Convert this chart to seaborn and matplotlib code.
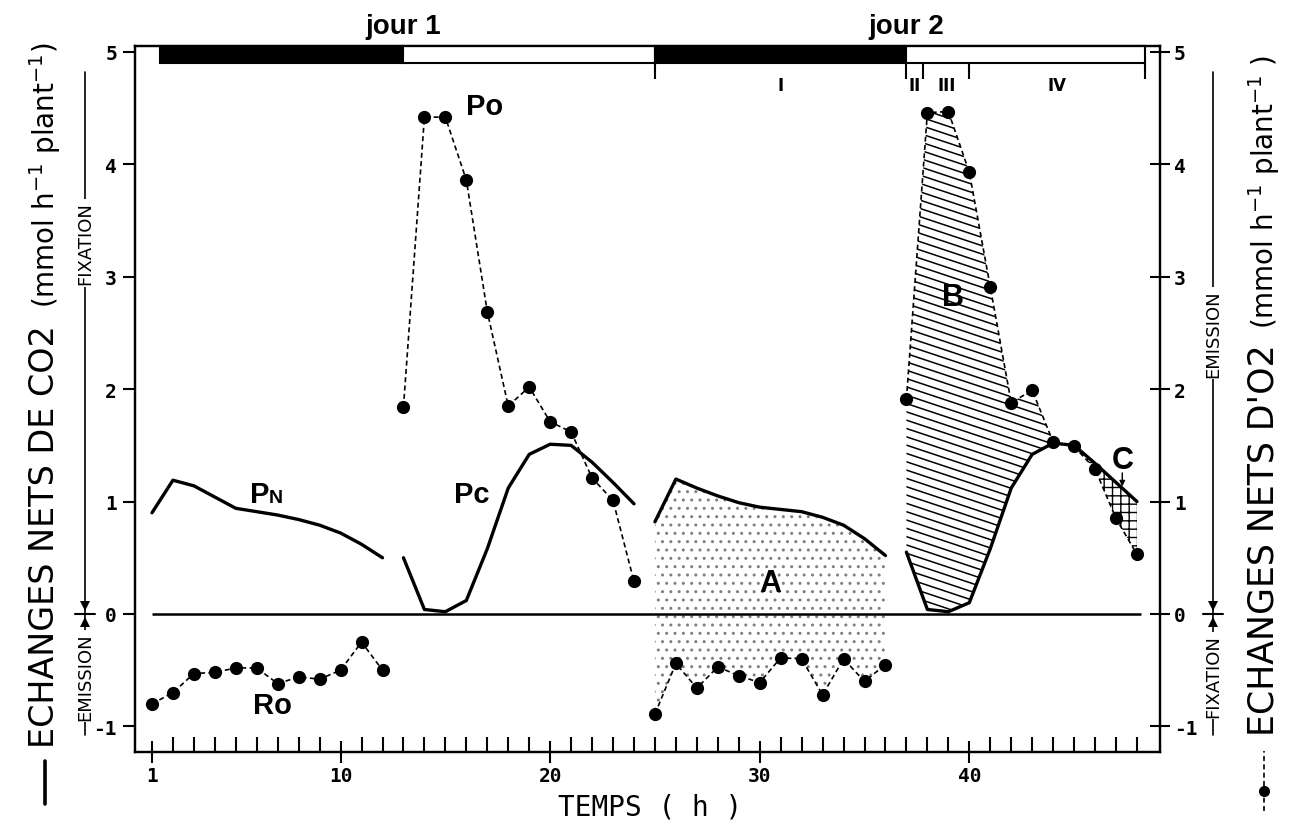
import numpy as np
import pandas as pd
import seaborn as sns
import matplotlib.pyplot as plt
import matplotlib.transforms as mtransforms
from matplotlib.patches import Rectangle
from matplotlib.collections import LineCollection
from matplotlib.lines import Line2D

sns.set_theme(style="white")
plt.rcParams["font.family"] = ["DejaVu Sans"]
plt.rcParams.update({
    "text.color": "black", "axes.labelcolor": "black",
    "xtick.color": "black", "ytick.color": "black",
    "axes.edgecolor": "black", "hatch.linewidth": 1.0,
})

# ---- net CO2 exchange (solid line), mmol h-1 plant-1 ----
pn1_h = list(range(1, 13))
pn1 = [0.90, 1.19, 1.14, 1.04, 0.94, 0.91, 0.88, 0.84, 0.79, 0.72, 0.62, 0.50]
pc1_h = list(range(13, 25))
pc1 = [0.50, 0.04, 0.02, 0.12, 0.58, 1.12, 1.42, 1.51, 1.50, 1.35, 1.17, 0.98]
pn2_h = list(range(25, 37))
pn2 = [0.82, 1.20, 1.12, 1.05, 0.99, 0.95, 0.93, 0.91, 0.86, 0.79, 0.67, 0.52]
pc2_h = list(range(37, 49))
pc2 = [0.55, 0.04, 0.02, 0.10, 0.58, 1.12, 1.42, 1.52, 1.50, 1.34, 1.17, 1.00]

# ---- net O2 exchange (dashed line with dots) ----
po1_h = list(range(13, 25))
po1 = [1.84, 4.42, 4.42, 3.86, 2.69, 1.85, 2.02, 1.71, 1.62, 1.21, 1.01, 0.29]
po2_h = list(range(37, 49))
po2 = [1.91, 4.46, 4.47, 3.93, 2.91, 1.88, 1.99, 1.53, 1.49, 1.29, 0.85, 0.53]
ro1_h = list(range(1, 13))
ro1 = [-0.80, -0.70, -0.53, -0.52, -0.48, -0.48, -0.62, -0.56, -0.58, -0.50, -0.25, -0.50]
ro2_h = list(range(25, 37))
ro2 = [-0.89, -0.44, -0.66, -0.47, -0.55, -0.61, -0.39, -0.40, -0.72, -0.40, -0.60, -0.45]

# ---- photoperiod bar and phases of day 2 ----
periods = [(1.4, 13, True), (13, 25, False), (25, 37, True), (37, 48.4, False)]
phase_bounds = [25, 37, 37.8, 40, 48.4]
phase_names = ["I", "II", "III", "IV"]
day_labels = ["jour 1", "jour 2"]
day_centers = [13, 37]

x_ticks = [1, 10, 20, 30, 40]
y_ticks = [-1, 0, 1, 2, 3, 4, 5]

W, H = 1291, 829
fig = plt.figure(figsize=(W / 100, H / 100), dpi=100)
ax = fig.add_axes([135 / W, 1 - 753 / H, (1160 - 135) / W, (753 - 47) / H])
ax.set_xlim(0.19, 49.1)
ax.set_ylim(-1.228, 5.053)

df_co2 = pd.DataFrame({
    "hour": pn1_h + pc1_h + pn2_h + pc2_h,
    "value": pn1 + pc1 + pn2 + pc2,
    "segment": ["pn1"] * 12 + ["pc1"] * 12 + ["pn2"] * 12 + ["pc2"] * 12,
})
df_o2 = pd.DataFrame({
    "hour": po1_h + po2_h + ro1_h + ro2_h,
    "value": po1 + po2 + ro1 + ro2,
    "segment": ["po1"] * 12 + ["po2"] * 12 + ["ro1"] * 12 + ["ro2"] * 12,
})

# zero line
ax.hlines(0, 1, 48.2, color="black", lw=1.8, zorder=2)

# area A: dotted, between night CO2 and O2 curves of day 2
ax.fill_between(pn2_h, ro2, pn2, facecolor="none", edgecolor="#808080",
                hatch="..", linewidth=0, zorder=1)

# area B: oblique hatching where O2 emission exceeds CO2 fixation
po2_a, pc2_a = np.array(po2), np.array(pc2)
n_b = int(np.argmax(po2_a < pc2_a))
poly_b = ax.fill_between(pc2_h[:n_b], pc2[:n_b], po2[:n_b], facecolor="none",
                         edgecolor="none", linewidth=0)
slope = -0.062
offsets = np.arange(-2.0, 8.0, 0.074)
segs = [[(35.0, c), (50.0, c + slope * 15.0)] for c in offsets]
hatch_b = LineCollection(segs, colors="black", linewidths=1.1, zorder=1)
ax.add_collection(hatch_b)
hatch_b.set_clip_path(poly_b.get_paths()[0], ax.transData)

# area C: cross hatching where CO2 fixation exceeds O2 emission
ax.fill_between(pc2_h, po2, pc2, where=pc2_a >= po2_a, interpolate=True,
                facecolor="none", edgecolor="black", hatch="++", linewidth=0, zorder=1)

sns.lineplot(data=df_co2, x="hour", y="value", units="segment", estimator=None,
             color="black", linewidth=2.4, ax=ax, legend=False, zorder=3)
sns.lineplot(data=df_o2, x="hour", y="value", units="segment", estimator=None,
             color="black", linewidth=1.2, linestyle=(0, (3, 2)), marker="o",
             markersize=9.5, markeredgewidth=0, ax=ax, legend=False, zorder=4)

# photoperiod bar
bar_lo, bar_hi = 4.90, 5.053
for start, end, dark in periods:
    ax.add_patch(Rectangle((start, bar_lo), end - start, bar_hi - bar_lo,
                           facecolor="black" if dark else "white", edgecolor="black",
                           lw=1.5, clip_on=False, zorder=5))
ax.vlines(phase_bounds, 4.76, bar_lo, color="black", lw=1.5, zorder=5)
for a, b, name in zip(phase_bounds[:-1], phase_bounds[1:], phase_names):
    ax.text((a + b) / 2, 4.71, name, ha="center", va="center", fontsize=12,
            fontweight="bold")
for lab, xc in zip(day_labels, day_centers):
    ax.text(xc, 5.17, lab, ha="center", va="baseline", fontsize=20,
            fontweight="bold", family="Liberation Sans", clip_on=False)

# curve labels
lab_kw = dict(fontsize=21, fontweight="bold", family="Liberation Sans", va="baseline")
ax.text(16.0, 4.45, "Po", ha="left", **lab_kw)
ax.text(15.4, 1.00, "Pc", ha="left", **lab_kw)
ax.text(5.7, 1.00, "P", ha="left", **lab_kw)
ax.text(6.55, 1.00, "N", ha="left", fontsize=14, fontweight="bold",
        family="Liberation Sans", va="baseline")
ax.text(5.8, -0.88, "Ro", ha="left", **lab_kw)
big_kw = dict(lab_kw, fontsize=22)
ax.text(30.5, 0.20, "A", ha="center", **big_kw)
ax.text(39.2, 2.75, "B", ha="center", **big_kw)
ax.text(47.3, 1.30, "C", ha="center", **big_kw)
ax.annotate("", xy=(47.3, 1.11), xytext=(47.3, 1.28),
            arrowprops=dict(arrowstyle="-|>", color="black", lw=1.0,
                            mutation_scale=8))

# axes, ticks
ax.set_xlabel("")
ax.set_ylabel("")
ax.set_xticks(x_ticks)
ax.set_xticks(range(1, 49), minor=True)
ax.set_yticks(y_ticks)
tick_font = dict(family="DejaVu Sans Mono", weight="bold", size=14)
ax.set_xticklabels([str(t) for t in x_ticks], fontdict=tick_font)
ax.set_yticklabels([str(t) for t in y_ticks], fontdict=tick_font)
ax.tick_params(axis="x", which="major", direction="inout", length=16, width=1.5,
               pad=2, bottom=True, top=False)
ax.tick_params(axis="x", which="minor", direction="in", length=11, width=1.5,
               bottom=True, top=False)
ax.tick_params(axis="y", which="major", direction="out", length=9, width=1.5,
               pad=4, left=True, right=False)
for s in ax.spines.values():
    s.set_linewidth(1.6)

ax2 = ax.twinx()
ax2.set_ylim(ax.get_ylim())
ax2.set_yticks(y_ticks)
ax2.set_yticklabels([str(t) for t in y_ticks], fontdict=tick_font)
ax2.tick_params(axis="y", direction="inout", length=14, width=1.5, pad=3)
ax2.grid(False)
for s in ax2.spines.values():
    s.set_linewidth(1.6)

fig.text(650 / W, 1 - 808 / H, "TEMPS ( h )", ha="center", va="center",
         fontsize=20, family="DejaVu Sans Mono")

# left axis title
fig.text(45 / W, 1 - 537 / H, "ECHANGES NETS DE CO2", rotation=90, ha="center",
         va="center", fontsize=24)
fig.text(45 / W, 1 - 175 / H, r"(mmol h$^{-1}$ plant$^{-1}$)", rotation=90,
         ha="center", va="center", fontsize=20)
fig.add_artist(Line2D([45 / W, 45 / W], [1 - 805 / H, 1 - 762 / H],
                      color="black", lw=2.6))

# right axis title
fig.text(1264 / W, 1 - 540 / H, "ECHANGES NETS D'O2", rotation=90, ha="center",
         va="center", fontsize=25)
fig.text(1264 / W, 1 - 192 / H, r"(mmol h$^{-1}$ plant$^{-1}$ )", rotation=90,
         ha="center", va="center", fontsize=20)
fig.add_artist(Line2D([1264 / W, 1264 / W], [1 - 812 / H, 1 - 752 / H],
                      color="black", lw=1.2, ls=(0, (3, 2))))
fig.add_artist(Line2D([1264 / W], [1 - 792 / H], marker="o", ms=8, color="black",
                      markeredgewidth=0))

# fixation / emission direction scales
tr = mtransforms.blended_transform_factory(fig.transFigure, ax.transData)
side_kw = dict(rotation=90, ha="center", va="center", fontsize=13,
               bbox=dict(facecolor="white", edgecolor="none", pad=1.5))


def direction_scale(xf, upper_text, upper_pos, lower_text):
    fig.add_artist(Line2D([xf, xf], [-1.08, 4.82], transform=tr, color="black", lw=1.2))
    fig.text(xf, upper_pos, upper_text, transform=tr, **side_kw)
    fig.text(xf, -0.55, lower_text, transform=tr, **side_kw)
    fig.add_artist(Line2D([xf - 10 / W, xf + 10 / W], [0, 0], transform=tr,
                          color="black", lw=1.5))
    fig.add_artist(Line2D([xf], [-0.07], marker="^", ms=7, color="black",
                          transform=tr, markeredgewidth=0))
    fig.add_artist(Line2D([xf], [0.07], marker="v", ms=7, color="black",
                          transform=tr, markeredgewidth=0))


direction_scale(85 / W, "FIXATION", 3.3, "EMISSION")
direction_scale(1213 / W, "EMISSION", 2.5, "FIXATION")

fig.savefig("out.png", dpi=100, facecolor="white")
